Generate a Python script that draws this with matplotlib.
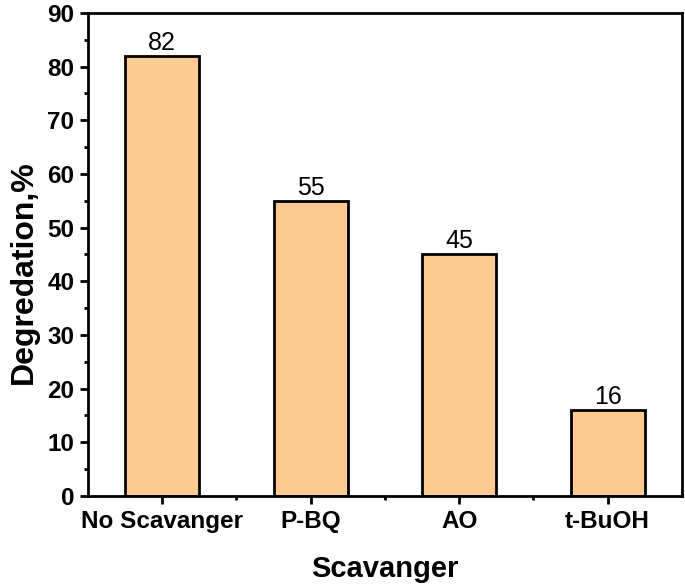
import matplotlib.pyplot as plt
from matplotlib.ticker import MultipleLocator, FixedLocator

# data
scavengers = ["No Scavanger", "P-BQ", "AO", "t-BuOH"]
degradation = [82, 55, 45, 16]

plt.rcParams["font.family"] = ["Liberation Sans", "DejaVu Sans"]

fig = plt.figure(figsize=(6.85, 5.88), dpi=100)
ax = fig.add_axes([0.1285, 0.1565, 0.867, 0.8215])

x = range(len(scavengers))
bars = ax.bar(x, degradation, width=0.5, color="#FDCB91", edgecolor="black", linewidth=2)

# value labels on top of bars
for b, v in zip(bars, degradation):
    ax.text(b.get_x() + b.get_width() / 2, v + 0.2, f"{v}", ha="center", va="bottom", fontsize=18)

ax.set_xlim(-0.5, len(scavengers) - 0.5)
ax.set_ylim(0, 90)
ax.set_xticks(list(x))
ax.set_xticklabels(scavengers, fontsize=17.5, fontweight="bold")
ax.xaxis.set_minor_locator(FixedLocator([i + 0.5 for i in range(len(scavengers) - 1)]))
ax.yaxis.set_major_locator(MultipleLocator(10))
ax.yaxis.set_minor_locator(MultipleLocator(5))
for lbl in ax.get_yticklabels():
    lbl.set_fontsize(17.5)
    lbl.set_fontweight("bold")

ax.tick_params(which="major", direction="out", length=6, width=2, pad=4)
ax.tick_params(which="minor", direction="out", length=3, width=2)
for s in ax.spines.values():
    s.set_linewidth(2)

ax.set_xlabel("Scavanger", fontsize=21, fontweight="bold", labelpad=16)
ax.set_ylabel("Degredation,%", fontsize=23, fontweight="bold")
ax.yaxis.set_label_coords(-0.083, 0.463)

plt.savefig("out.png", dpi=100)
